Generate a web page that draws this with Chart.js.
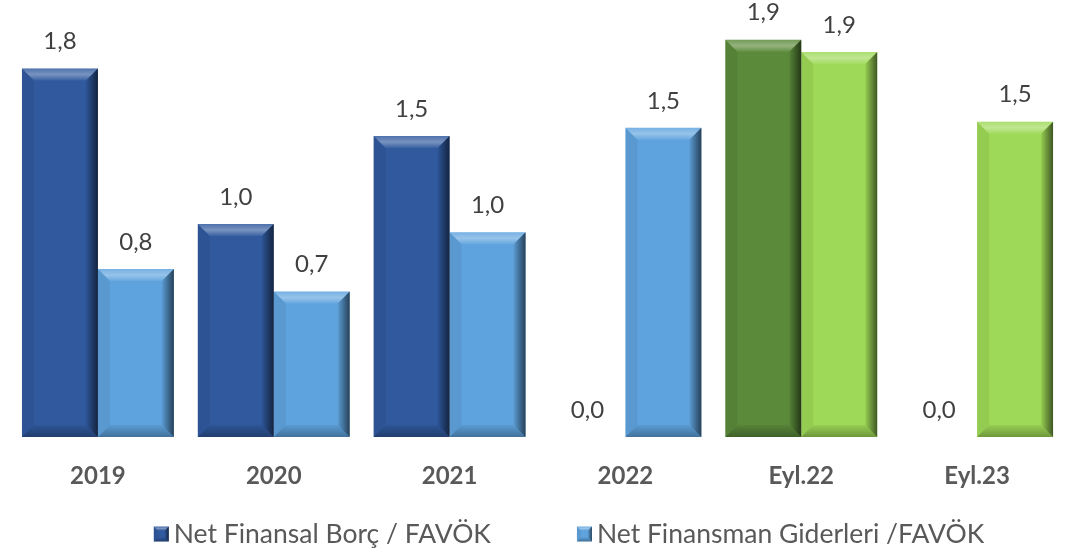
<!DOCTYPE html>
<html>
<head>
<meta charset="utf-8">
<script src="https://cdn.jsdelivr.net/npm/chart.js@4/dist/chart.umd.min.js"></script>
<style>
  html, body { margin: 0; padding: 0; background: #fff; }
  #wrap { width: 1066px; height: 553px; }
</style>
</head>
<body>
<div id="wrap"><canvas id="myChart"></canvas></div>
<script>
var categories = ['2019', '2020', '2021', '2022', 'Eyl.22', 'Eyl.23'];
var seriesNames = ['Net Finansal Borç / FAVÖK', 'Net Finansman Giderleri /FAVÖK'];
var borcValues = [1.80, 1.04, 1.47, 0.0, 1.94, 0.0];
var giderValues = [0.82, 0.71, 1.00, 1.51, 1.88, 1.54];
var borcColors = ['#30599e', '#30599e', '#30599e', '#30599e', '#5b8a3a', '#5b8a3a'];
var giderColors = ['#5fa3de', '#5fa3de', '#5fa3de', '#5fa3de', '#9ed957', '#9ed957'];
var legendColors = ['#30599e', '#5fa3de'];

var FONT = 'Lato, "Open Sans", sans-serif';

function fmt(v) {
    return v.toFixed(1).replace('.', ',');
}

function bevelBox(ctx, L, T, R, B, b) {
    var g = ctx.createLinearGradient(0, T, 0, T + b);
    g.addColorStop(0, 'rgba(255,255,255,0.15)');
    g.addColorStop(0.5, 'rgba(255,255,255,0.35)');
    g.addColorStop(1, 'rgba(255,255,255,0.05)');
    ctx.fillStyle = g;
    ctx.beginPath();
    ctx.moveTo(L, T); ctx.lineTo(R, T); ctx.lineTo(R - b, T + b); ctx.lineTo(L + b, T + b);
    ctx.closePath(); ctx.fill();
    g = ctx.createLinearGradient(R - b, 0, R, 0);
    g.addColorStop(0, 'rgba(0,0,0,0.05)');
    g.addColorStop(1, 'rgba(0,0,0,0.6)');
    ctx.fillStyle = g;
    ctx.beginPath();
    ctx.moveTo(R, T); ctx.lineTo(R, B); ctx.lineTo(R - b, B - b); ctx.lineTo(R - b, T + b);
    ctx.closePath(); ctx.fill();
    g = ctx.createLinearGradient(0, B - b, 0, B);
    g.addColorStop(0, 'rgba(0,0,0,0.05)');
    g.addColorStop(1, 'rgba(0,0,0,0.3)');
    ctx.fillStyle = g;
    ctx.beginPath();
    ctx.moveTo(L, B); ctx.lineTo(R, B); ctx.lineTo(R - b, B - b); ctx.lineTo(L + b, B - b);
    ctx.closePath(); ctx.fill();
    ctx.fillStyle = 'rgba(0,0,0,0.06)';
    ctx.beginPath();
    ctx.moveTo(L, T); ctx.lineTo(L + b, T + b); ctx.lineTo(L + b, B - b); ctx.lineTo(L, B);
    ctx.closePath(); ctx.fill();
}

// bevel look on each bar, drawn from the bar elements
var bevelPlugin = {
    id: 'bevel',
    afterDatasetsDraw: function(chart) {
        var ctx = chart.ctx;
        chart.data.datasets.forEach(function(ds, i) {
            chart.getDatasetMeta(i).data.forEach(function(bar) {
                var p = bar.getProps(['x', 'y', 'base', 'width'], true);
                var h = p.base - p.y;
                if (h < 2) return;
                ctx.save();
                bevelBox(ctx, p.x - p.width / 2, p.y, p.x + p.width / 2, p.base, Math.min(12, h / 2));
                ctx.restore();
            });
        });
    }
};

var valueLabels = {
    id: 'valueLabels',
    afterDatasetsDraw: function(chart) {
        var ctx = chart.ctx;
        ctx.save();
        ctx.font = '24px ' + FONT;
        ctx.fillStyle = '#404040';
        ctx.textAlign = 'center';
        ctx.textBaseline = 'middle';
        chart.data.datasets.forEach(function(ds, i) {
            chart.getDatasetMeta(i).data.forEach(function(bar, j) {
                ctx.fillText(fmt(ds.data[j]), bar.x, bar.y - 27);
            });
        });
        ctx.restore();
    }
};

// legend at the bottom, wide gap between the two items like the original
var bottomLegend = {
    id: 'bottomLegend',
    afterDraw: function(chart) {
        var ctx = chart.ctx;
        ctx.save();
        ctx.font = '26.5px ' + FONT;
        ctx.textBaseline = 'middle';
        ctx.textAlign = 'left';
        var box = 15, gap = 5, between = 86;
        var widths = seriesNames.map(function(s) { return ctx.measureText(s).width; });
        var total = box + gap + widths[0] + between + box + gap + widths[1];
        var x = 569 - total / 2;
        var cy = chart.height - 19;
        seriesNames.forEach(function(name, i) {
            ctx.fillStyle = legendColors[i];
            ctx.fillRect(x, cy - box / 2, box, box);
            bevelBox(ctx, x, cy - box / 2, x + box, cy + box / 2, 4);
            ctx.fillStyle = '#595959';
            ctx.fillText(name, x + box + gap, cy);
            x += box + gap + widths[i] + between;
        });
        ctx.restore();
    }
};

function load() {
    var ctx = document.getElementById('myChart').getContext('2d');
    var myChart = new Chart(ctx, {
        type: 'bar',
        data: {
            labels: categories,
            datasets: [{
                label: seriesNames[0],
                data: borcValues,
                backgroundColor: borcColors,
                borderWidth: 0
            }, {
                label: seriesNames[1],
                data: giderValues,
                backgroundColor: giderColors,
                borderWidth: 0
            }]
        },
        options: {
            responsive: true,
            maintainAspectRatio: false,
            animation: false,
            layout: { padding: { top: 7, left: 10, right: 1, bottom: 36 } },
            datasets: { bar: { categoryPercentage: 0.864, barPercentage: 1 } },
            scales: {
                x: {
                    grid: { display: false, drawTicks: false },
                    border: { display: false },
                    afterFit: function(scale) { scale.height = 80; },
                    ticks: {
                        color: '#595959',
                        padding: 25,
                        font: { family: FONT, size: 24, weight: 'bold' }
                    }
                },
                y: {
                    display: false,
                    min: 0,
                    max: 2.1
                }
            },
            plugins: {
                tooltip: { enabled: false },
                legend: { display: false }
            }
        },
        plugins: [bevelPlugin, valueLabels, bottomLegend]
    });
}

window.onload = load();
</script>
</body>
</html>
